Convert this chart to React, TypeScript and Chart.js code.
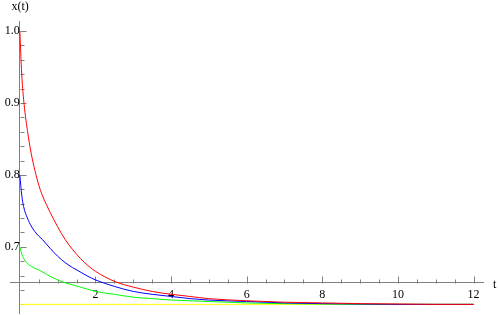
import React, { useEffect, useRef } from "react";
import { Chart, registerables } from "chart.js";

Chart.register(...registerables);

// time grid shared by the decaying curves
const T = [0, 0.05, 0.1, 0.2, 0.3, 0.4, 0.5, 0.6, 0.7, 0.8, 1.0, 1.2, 1.4, 1.6, 1.8, 2.0, 2.5, 3.0, 3.5, 4.0, 4.5, 5.0, 6.0, 7.0, 8.0, 9.0, 10.0, 11.0, 12.0];
const RED = [1.0, 0.94, 0.905, 0.862, 0.83, 0.806, 0.786, 0.771, 0.759, 0.748, 0.728, 0.71, 0.696, 0.684, 0.674, 0.666, 0.652, 0.644, 0.638, 0.634, 0.631, 0.628, 0.625, 0.623, 0.622, 0.621, 0.6205, 0.62, 0.62];
const BLUE = [0.8, 0.772, 0.756, 0.74, 0.729, 0.721, 0.715, 0.71, 0.704, 0.698, 0.687, 0.678, 0.671, 0.665, 0.659, 0.654, 0.645, 0.638, 0.634, 0.631, 0.628, 0.626, 0.624, 0.622, 0.621, 0.6205, 0.62, 0.62, 0.62];
const GREEN = [0.7, 0.69, 0.684, 0.677, 0.673, 0.67, 0.668, 0.665, 0.662, 0.659, 0.654, 0.65, 0.647, 0.644, 0.641, 0.638, 0.634, 0.63, 0.628, 0.626, 0.625, 0.624, 0.622, 0.621, 0.6205, 0.62, 0.62, 0.62, 0.62];
const YELLOW_T = [0, 12];
const YELLOW = [0.62, 0.62];

const X_TICKS = [2, 4, 6, 8, 10, 12];
const Y_TICKS = [0.7, 0.8, 0.9, 1.0];
const X_MINOR = { from: 0, to: 12, step: 0.5 };
const Y_MINOR = { from: 0.62, to: 1.0, step: 0.02 };
const X_RANGE = [-0.26, 12.25];
const Y_RANGE = [0.608, 1.014];
const AXIS_ORIGIN = { x: 0, y: 0.65 };
const X_LABEL = "t";
const Y_LABEL = "x(t)";

const FONT = "'Liberation Serif', 'Times New Roman', serif";
const AXIS_COLOR = "#808080";

const pts = (ts: number[], vs: number[]) => ts.map((t, i) => ({ x: t, y: vs[i] }));

const noPad = (s: any) => {
  s.paddingTop = 0;
  s.paddingBottom = 0;
  s.paddingLeft = 0;
  s.paddingRight = 0;
};

const mmaAxes = {
  id: "mmaAxes",
  beforeDatasetsDraw(chart: any) {
    const ctx = chart.ctx;
    const xs = chart.scales.x;
    const ys = chart.scales.y;
    const x0 = Math.round(xs.getPixelForValue(AXIS_ORIGIN.x)) + 0.5;
    const y0 = Math.round(ys.getPixelForValue(AXIS_ORIGIN.y)) + 0.5;
    ctx.save();
    ctx.strokeStyle = AXIS_COLOR;
    ctx.lineWidth = 1;
    ctx.beginPath();
    const nx = Math.round((X_MINOR.to - X_MINOR.from) / X_MINOR.step);
    for (let i = 0; i <= nx; i++) {
      const v = X_MINOR.from + i * X_MINOR.step;
      if (Math.abs(v - AXIS_ORIGIN.x) < 1e-9) continue;
      const major = X_TICKS.some((m) => Math.abs(m - v) < 1e-9);
      const px = Math.round(xs.getPixelForValue(v)) + 0.5;
      ctx.moveTo(px, y0);
      ctx.lineTo(px, y0 - (major ? 7 : 4));
    }
    const ny = Math.round((Y_MINOR.to - Y_MINOR.from) / Y_MINOR.step);
    for (let i = 0; i <= ny; i++) {
      const v = Y_MINOR.from + i * Y_MINOR.step;
      const major = Y_TICKS.some((m) => Math.abs(m - v) < 1e-9);
      const py = Math.round(ys.getPixelForValue(v)) + 0.5;
      ctx.moveTo(x0, py);
      ctx.lineTo(x0 + (major ? 6 : 4), py);
    }
    ctx.stroke();
    ctx.fillStyle = "#000";
    ctx.font = "12px " + FONT;
    ctx.textAlign = "left";
    ctx.textBaseline = "alphabetic";
    ctx.fillText(Y_LABEL, x0 - 9, chart.chartArea.top - 11);
    ctx.fillText(X_LABEL, chart.chartArea.right + 10, y0 + 4.5);
    ctx.restore();
  },
};

export default function App() {
  const ref = useRef<HTMLCanvasElement | null>(null);
  useEffect(() => {
    if (!ref.current) return;
    const chart = new Chart(ref.current, {
      type: "line",
      data: {
        datasets: [
          { data: pts(T, RED), borderColor: "#ff0000" },
          { data: pts(T, BLUE), borderColor: "#0000ff" },
          { data: pts(T, GREEN), borderColor: "#00ff00" },
          { data: pts(YELLOW_T, YELLOW), borderColor: "#ffff00" },
        ].map((d) => ({
          ...d,
          borderWidth: 1,
          pointRadius: 0,
          fill: false,
          cubicInterpolationMode: "monotone" as const,
        })),
      },
      options: {
        animation: false,
        responsive: true,
        maintainAspectRatio: false,
        parsing: false as any,
        layout: { padding: { left: 10, right: 15, top: 21, bottom: 2 } },
        plugins: { legend: { display: false }, tooltip: { enabled: false } },
        scales: {
          x: {
            type: "linear",
            min: X_RANGE[0],
            max: X_RANGE[1],
            position: { y: AXIS_ORIGIN.y } as any,
            grid: { display: false, drawTicks: false },
            border: { display: true, color: AXIS_COLOR, width: 1 },
            afterBuildTicks: (s: any) => {
              s.ticks = X_TICKS.map((v) => ({ value: v }));
            },
            afterFit: noPad,
            ticks: {
              autoSkip: false,
              maxRotation: 0,
              padding: 5,
              color: "#000",
              font: { family: FONT, size: 12 },
              callback: (v: any) => String(v),
            },
          },
          y: {
            type: "linear",
            min: Y_RANGE[0],
            max: Y_RANGE[1],
            position: { x: AXIS_ORIGIN.x } as any,
            grid: { display: false, drawTicks: false },
            border: { display: true, color: AXIS_COLOR, width: 1 },
            afterBuildTicks: (s: any) => {
              s.ticks = Y_TICKS.map((v) => ({ value: v }));
            },
            afterFit: noPad,
            ticks: {
              autoSkip: false,
              padding: 4,
              color: "#000",
              font: { family: FONT, size: 12 },
              callback: (v: any) => Number(v).toFixed(1),
            },
          },
        },
      },
      plugins: [mmaAxes],
    });
    return () => chart.destroy();
  }, []);
  return (
    <div style={{ position: "fixed", left: 0, top: 0, width: 498, height: 315, background: "#fff" }}>
      <canvas ref={ref} />
    </div>
  );
}
